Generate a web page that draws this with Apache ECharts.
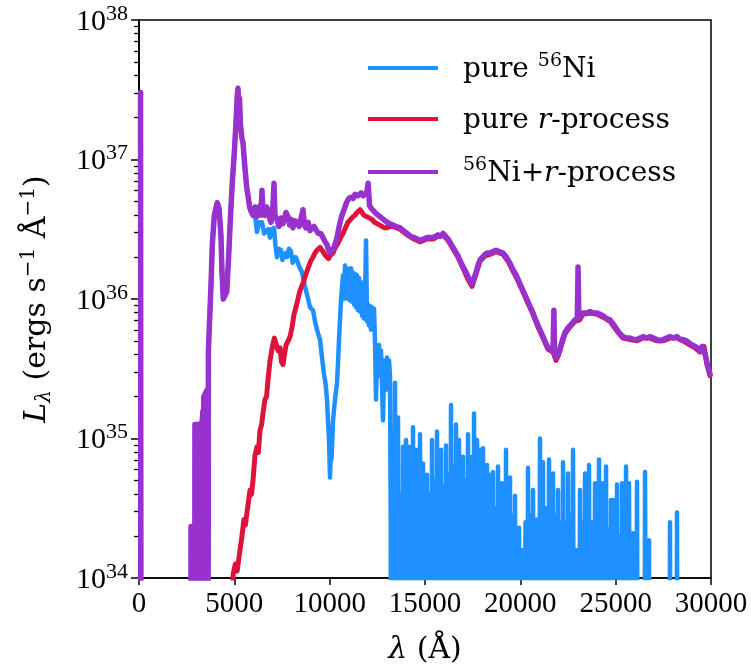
<!DOCTYPE html>
<html>
<head>
<meta charset="utf-8">
<script src="https://cdn.jsdelivr.net/npm/echarts@6/dist/echarts.min.js"></script>
<style>
  html, body { margin: 0; padding: 0; background: #fff; }
  #chart { width: 751px; height: 671px; }
</style>
</head>
<body>
<div id="chart"></div>
<script>
// Synthetic spectra: [wavelength (Å), log10 L_λ (erg s^-1 Å^-1)].
// A log value of 30 marks a bin with no flux (below the plotted range).

const pureNi = [
  [80,37.48],[120,30],[2720,30],[2730,34.37],[2900,34.37],[2915,30],[2935,35.1],[3150,35.1],[3165,30],
  [3200,34.95],[3360,35.2],[3375,30],[3400,35.3],[3580,35.35],[3600,30],[3640,35.63],[3776,36.1],
  [3850,36.4],[3950,36.6],[4100,36.69],[4200,36.65],[4300,36.45],[4350,36.2],[4420,36.0],[4510,35.99],
  [4600,36.05],[4700,36.3],[4800,36.6],[4900,36.85],[5000,37.05],[5100,37.3],[5150,37.45],[5193,37.51],
  [5230,37.38],[5270,37.44],[5320,37.25],[5400,37.15],[5455,37.12],[5550,36.95],[5650,36.8],[5717,36.74],
  [5800,36.66],[5900,36.62],[5980,36.6],[6085,36.6],[6189,36.48],[6300,36.55],[6451,36.55],[6560,36.47],
  [6660,36.48],[6770,36.5],[6871,36.44],[6960,36.5],[7081,36.51],[7160,36.38],[7238,36.3],[7340,36.36],
  [7448,36.35],[7520,36.28],[7605,36.27],[7700,36.33],[7763,36.3],[7870,36.36],[7972,36.34],[8060,36.26],
  [8130,36.27],[8220,36.3],[8287,36.28],[8380,36.24],[8445,36.22],[8530,36.2],[8602,36.16],[8690,36.1],
  [8760,36.06],[8870,36.0],[8969,35.94],[9050,35.95],[9126,35.92],[9230,35.84],[9336,35.78],[9420,35.74],
  [9494,35.71],[9598,35.58],[9703,35.46],[9780,35.4],[9860,35.28],[9920,35.1],[9965,34.99],[10018,34.72],
  [10060,34.9],[10097,34.85],[10175,35.13],[10280,35.28],[10385,35.4],[10440,35.55],[10490,35.71],
  [10595,35.99],[10700,36.17],[10750,36.0],[10805,36.24],[10860,36.02],[10910,36.22],[10960,36.0],
  [11015,36.2],[11067,35.99],[11120,36.22],[11172,35.98],[11225,36.19],[11280,35.96],[11330,36.18],
  [11380,35.94],[11434,36.17],[11490,35.92],[11540,36.15],[11592,35.91],[11650,36.12],[11697,35.88],
  [11750,36.06],[11800,35.86],[11855,36.0],[11907,36.42],[11960,35.84],[12011,35.96],[12060,35.81],
  [12116,35.95],[12168,35.78],[12220,35.94],[12273,35.8],[12326,35.93],[12378,35.7],[12430,35.28],
  [12483,35.6],[12535,35.49],[12590,35.67],[12640,35.45],[12693,35.63],[12745,35.38],[12797,35.13],
  [12850,35.5],[12902,35.56],[12955,35.35],[13007,35.58],[13059,35.4],[13112,35.56],[13164,35.45],
  [13200,34.49],[13260,30],
  [13427,35.40],[13505,30],[13585,35.15],[13650,30],[13716,34.6],[13780,30],[13847,34.94],[13925,30],
  [14004,34.99],[14083,30],[14162,34.94],[14214,30],[14266,34.7],[14318,30],[14371,35.08],[14450,30],
  [14530,34.92],[14582,30],[14634,34.6],[14686,30],[14738,35.03],[14817,30],[14896,34.82],[14948,30],
  [15000,34.55],[15053,30],[15106,34.74],[15171,30],[15237,34.6],[15302,30],[15368,34.99],[15434,30],
  [15500,34.7],[15565,30],[15630,35.05],[15682,30],[15735,34.6],[15787,30],[15840,34.92],[15905,30],
  [15970,34.65],[16036,30],[16102,34.95],[16154,30],[16207,34.75],[16285,30],[16364,35.24],[16430,30],
  [16495,34.8],[16561,30],[16627,35.10],[16705,30],[16784,34.99],[16837,30],[16890,34.6],[16942,30],
  [16994,34.87],[17060,30],[17125,34.7],[17190,30],[17256,35.03],[17308,30],[17360,34.6],[17413,30],
  [17466,34.87],[17518,30],[17571,35.18],[17650,30],[17728,34.99],[17806,30],[17885,34.92],[17964,30],
  [18043,34.93],[18096,30],[18150,34.55],[18201,30],[18253,34.81],[18331,30],[18410,34.74],[18488,30],
  [18567,34.76],[18633,30],[18700,34.5],[18765,30],[18830,34.80],[18882,30],[18935,34.5],[18987,30],
  [19040,34.68],[19092,30],[19145,34.45],[19197,30],[19249,34.92],[19302,30],[19355,34.5],[19407,30],
  [19459,34.72],[19524,30],[19590,34.45],[19655,30],[19721,34.59],[19826,30],[19931,34.36],[20036,30],
  [20141,34.20],[20205,30],[20270,34.4],[20336,30],[20403,34.79],[20469,30],[20535,34.45],[20600,30],
  [20665,34.63],[20770,30],[20875,34.42],[20953,30],[21032,35.0],[21111,30],[21190,34.83],[21270,30],
  [21350,34.5],[21427,30],[21505,34.85],[21557,30],[21610,34.4],[21662,30],[21714,34.75],[21780,30],
  [21845,34.45],[21911,30],[21977,34.63],[22043,30],[22110,34.4],[22175,30],[22239,34.83],[22305,30],
  [22370,34.4],[22435,30],[22501,34.75],[22565,30],[22630,34.45],[22697,30],[22763,34.92],[22868,30],
  [22973,34.20],[23051,30],[23130,34.63],[23195,30],[23260,34.4],[23327,30],[23393,34.75],[23447,30],
  [23500,34.35],[23552,30],[23603,34.81],[23682,30],[23760,34.4],[23839,30],[23917,34.68],[24022,30],
  [24127,34.85],[24232,30],[24337,34.68],[24416,30],[24494,34.80],[24557,30],[24620,34.35],[24688,30],
  [24756,34.56],[24808,30],[24861,34.56],[24966,30],[25071,34.67],[25135,30],[25200,34.3],[25266,30],
  [25333,34.68],[25438,30],[25543,34.80],[25622,30],[25700,34.68],[25805,30],[25910,34.32],[26015,30],
  [26120,34.69],[26200,30],[26480,30],[26540,34.76],[26645,30],[26750,34.27],[26800,30],
  [27800,30],[27850,34.40],[27900,30],[28170,30],[28217,34.47],[28270,30],[30000,30]
];

const pureRProcess = [
  [4900,30],[4930,34.02],[5050,34.1],[5150,34.05],[5297,34.2],[5400,34.3],[5507,34.42],[5580,34.38],
  [5665,34.47],[5822,34.63],[5900,34.6],[5980,34.7],[6085,34.88],[6189,34.94],[6260,34.9],[6346,35.06],
  [6430,35.1],[6504,35.18],[6608,35.28],[6690,35.3],[6766,35.42],[6871,35.56],[6950,35.62],[7028,35.68],
  [7100,35.72],[7186,35.71],[7290,35.63],[7395,35.65],[7470,35.55],[7553,35.53],[7630,35.6],[7710,35.67],
  [7820,35.7],[7920,35.73],[8030,35.8],[8130,35.89],[8210,35.93],[8287,35.97],[8370,36.02],[8445,36.06],
  [8530,36.09],[8602,36.11],[8730,36.17],[8864,36.22],[9000,36.27],[9126,36.3],[9230,36.33],[9336,36.35],
  [9420,36.36],[9494,36.37],[9600,36.35],[9703,36.34],[9780,36.31],[9860,36.3],[9940,36.29],[10018,36.31],
  [10100,36.31],[10175,36.33],[10300,36.37],[10438,36.4],[10570,36.44],[10700,36.47],[10830,36.51],
  [10960,36.55],[11100,36.57],[11225,36.59],[11330,36.6],[11434,36.62],[11592,36.64],[11700,36.62],
  [11800,36.6],[11960,36.59],[12090,36.58],[12220,36.57],[12350,36.55],[12483,36.54],[12620,36.53],
  [12745,36.52],[12880,36.51],[13010,36.51],[13160,36.52],[13322,36.52],[13690,36.50],[14057,36.46],
  [14424,36.43],[14738,36.41],[15106,36.43],[15420,36.43],[15682,36.45],[15945,36.46],[16207,36.42],
  [16469,36.36],[16730,36.30],[16994,36.22],[17256,36.14],[17466,36.09],[17675,36.18],[17885,36.27],
  [18150,36.31],[18410,36.32],[18725,36.34],[19092,36.32],[19354,36.27],[19616,36.20],[19880,36.13],
  [20141,36.05],[20403,35.97],[20665,35.89],[20928,35.80],[21190,35.72],[21452,35.64],[21714,35.62],
  [21870,35.56],[21977,35.59],[22134,35.66],[22344,35.75],[22606,35.80],[22868,35.84],[23104,35.85],
  [23288,35.89],[23655,35.90],[24022,35.89],[24337,35.87],[24704,35.84],[25071,35.77],[25386,35.72],
  [25753,35.71],[26120,35.70],[26435,35.72],[26802,35.72],[27169,35.70],[27483,35.70],[27850,35.72],
  [28217,35.72],[28533,35.70],[28900,35.67],[29162,35.65],[29424,35.62],[29634,35.66],[29792,35.53],
  [29950,35.45]
];

const niPlusRProcess = [
  [80,37.48],[120,30],[2720,30],[2730,34.37],[2900,34.37],[2915,30],[2935,35.1],[3150,35.1],[3165,30],
  [3200,34.95],[3360,35.2],[3375,30],[3400,35.3],[3580,35.35],[3600,30],[3640,35.63],[3776,36.1],
  [3850,36.4],[3950,36.6],[4100,36.69],[4200,36.65],[4300,36.45],[4350,36.2],[4420,36.0],[4510,35.99],
  [4600,36.05],[4700,36.3],[4800,36.6],[4900,36.85],[5000,37.05],[5100,37.3],[5150,37.45],[5193,37.51],
  [5230,37.38],[5270,37.44],[5320,37.25],[5400,37.15],[5455,37.12],[5550,36.95],[5650,36.8],[5717,36.74],
  [5800,36.66],[5900,36.62],[5980,36.6],[6085,36.66],[6189,36.59],[6260,36.63],[6346,36.67],[6400,36.6],
  [6451,36.78],[6500,36.62],[6608,36.6],[6690,36.66],[6766,36.64],[6850,36.58],[6923,36.55],[7000,36.6],
  [7081,36.83],[7130,36.6],[7238,36.57],[7340,36.52],[7450,36.58],[7553,36.54],[7630,36.58],[7710,36.62],
  [7815,36.59],[7900,36.53],[7980,36.57],[8077,36.51],[8180,36.56],[8287,36.55],[8400,36.52],[8500,36.58],
  [8602,36.64],[8680,36.53],[8760,36.51],[8870,36.55],[8969,36.49],[9060,36.5],[9180,36.52],[9284,36.51],
  [9400,36.47],[9530,36.47],[9651,36.44],[9760,36.41],[9860,36.39],[9940,36.35],[10018,36.33],
  [10120,36.34],[10228,36.37],[10300,36.4],[10385,36.44],[10500,36.52],[10620,36.59],[10753,36.64],
  [10880,36.69],[11000,36.72],[11120,36.73],[11230,36.72],[11330,36.75],[11480,36.74],[11644,36.76],
  [11760,36.74],[11854,36.75],[11960,36.77],[12019,36.83],[12090,36.67],[12180,36.65],[12273,36.64],
  [12450,36.61],[12640,36.59],[12820,36.57],[13010,36.55],[13160,36.54],[13322,36.53],[13500,36.52],
  [13690,36.51],[13870,36.49],[14057,36.47],[14240,36.45],[14424,36.44],[14600,36.43],[14738,36.42],
  [14920,36.43],[15106,36.44],[15260,36.44],[15420,36.44],[15560,36.45],[15682,36.46],[15820,36.45],
  [15945,36.47],[16080,36.45],[16207,36.43],[16340,36.4],[16469,36.37],[16600,36.34],[16730,36.31],
  [16860,36.27],[16994,36.23],[17120,36.2],[17256,36.16],[17360,36.13],[17466,36.11],[17570,36.15],
  [17675,36.19],[17780,36.24],[17885,36.28],[18020,36.3],[18150,36.32],[18280,36.33],[18410,36.33],
  [18560,36.34],[18725,36.35],[18900,36.34],[19092,36.33],[19220,36.31],[19354,36.28],[19480,36.25],
  [19616,36.21],[19750,36.18],[19880,36.14],[20010,36.1],[20141,36.06],[20270,36.02],[20403,35.98],
  [20530,35.94],[20665,35.9],[20800,35.85],[20928,35.81],[21060,35.77],[21190,35.73],[21320,35.69],
  [21452,35.65],[21600,35.64],[21714,35.63],[21760,35.92],[21800,35.6],[21870,35.58],[21977,35.6],
  [22060,35.63],[22134,35.67],[22240,35.72],[22344,35.76],[22480,35.79],[22606,35.81],[22740,35.83],
  [22868,35.85],[22990,35.86],[23026,36.23],[23070,35.87],[23104,35.86],[23200,35.88],[23288,35.9],
  [23470,35.9],[23655,35.91],[23840,35.9],[24022,35.9],[24180,35.89],[24337,35.88],[24520,35.86],
  [24704,35.85],[24880,35.82],[25071,35.78],[25230,35.75],[25386,35.73],[25570,35.72],[25753,35.72],
  [25940,35.71],[26120,35.71],[26280,35.72],[26435,35.73],[26620,35.72],[26802,35.73],[26990,35.72],
  [27169,35.71],[27330,35.7],[27483,35.71],[27670,35.72],[27850,35.73],[28030,35.72],[28217,35.73],
  [28380,35.71],[28533,35.71],[28720,35.7],[28900,35.68],[29030,35.67],[29162,35.66],[29300,35.65],
  [29424,35.63],[29530,35.66],[29634,35.67],[29700,35.6],[29792,35.54],[29870,35.5],[29950,35.46]
];

// Axis ranges
const xMin = 0, xMax = 30000, xStep = 5000;
const yDecades = [34, 35, 36, 37, 38];

const TICK_FONT = '"Liberation Serif", serif';
const TEXT_FONT = '"DejaVu Serif", serif';

// log10 values -> luminosity for the log axis
const toLum = rows => rows.map(r => [r[0], Math.pow(10, r[1])]);

// minor tick positions (2..9 × 10^n) in exponent space
const minorTicks = [];
for (let n = yDecades[0]; n < yDecades[yDecades.length - 1]; n++) {
  for (let k = 2; k <= 9; k++) minorTicks.push(n + Math.log10(k));
}

const legendLabels = {
  'pure 56Ni': '{g| }{t|pure }{s|56}{t|Ni}',
  'pure r-process': '{g| }{t|pure }{it|r}{t|-process}',
  '56Ni+r-process': '{g| }{s|56}{t|Ni+}{it|r}{t|-process}'
};

const chart = echarts.init(document.getElementById('chart'), null, { renderer: 'canvas' });

const lineSeries = (name, rows, color, width) => ({
  name,
  type: 'line',
  yAxisIndex: 0,
  data: toLum(rows),
  showSymbol: false,
  symbol: 'none',
  clip: true,
  lineStyle: { color, width, join: 'round', cap: 'round' },
  itemStyle: { color },
  emphasis: { disabled: true }
});

chart.setOption({
  animation: false,
  backgroundColor: '#fff',
  textStyle: { fontFamily: TEXT_FONT, color: '#000' },
  grid: {
    left: 139, right: 40, top: 20, bottom: 93,
    show: true, borderColor: '#000', borderWidth: 1.5, backgroundColor: 'transparent'
  },
  legend: {
    orient: 'vertical',
    left: 363,
    top: 47,
    itemWidth: 70,
    itemHeight: 4,
    itemGap: 21,
    icon: 'rect',
    selectedMode: false,
    data: ['pure 56Ni', 'pure r-process', '56Ni+r-process'],
    formatter: name => legendLabels[name],
    textStyle: {
      color: '#000',
      fontFamily: TEXT_FONT,
      rich: {
        g: { width: 20, fontSize: 28, lineHeight: 32 },
        t: { fontSize: 28, fontFamily: TEXT_FONT, color: '#000', lineHeight: 32, verticalAlign: 'bottom' },
        it: { fontSize: 28, fontFamily: TEXT_FONT, fontStyle: 'italic', color: '#000', lineHeight: 32, verticalAlign: 'bottom' },
        s: { fontSize: 19, fontFamily: TEXT_FONT, color: '#000', lineHeight: 19, verticalAlign: 'top' }
      }
    }
  },
  xAxis: {
    type: 'value',
    min: xMin,
    max: xMax,
    interval: xStep,
    name: '{i|λ}{n| (Å)}',
    nameLocation: 'middle',
    nameGap: 57,
    nameTextStyle: {
      rich: {
        i: { fontFamily: TEXT_FONT, fontStyle: 'italic', fontSize: 30, color: '#000' },
        n: { fontFamily: TEXT_FONT, fontSize: 30, color: '#000' }
      }
    },
    axisLine: { show: true, onZero: false, lineStyle: { color: '#000', width: 1.5 } },
    axisTick: { show: true, inside: false, length: 7, lineStyle: { color: '#000', width: 1.5 } },
    axisLabel: {
      fontFamily: TICK_FONT, fontSize: 29, color: '#000', margin: 12,
      formatter: v => String(v)
    },
    splitLine: { show: false }
  },
  yAxis: [
    {
      type: 'log',
      logBase: 10,
      min: Math.pow(10, yDecades[0]),
      max: Math.pow(10, yDecades[yDecades.length - 1]),
      position: 'left',
      name: '{i|L}{sub|λ}{n| (ergs s}{sup|−1}{n| Å}{sup|−1}{n|)}',
      nameLocation: 'middle',
      nameRotate: 90,
      nameGap: 84,
      nameTextStyle: {
        rich: {
          i: { fontFamily: TEXT_FONT, fontStyle: 'italic', fontSize: 30, color: '#000', lineHeight: 36 },
          n: { fontFamily: TEXT_FONT, fontSize: 30, color: '#000', lineHeight: 36 },
          sub: { fontFamily: TEXT_FONT, fontStyle: 'italic', fontSize: 20, color: '#000', lineHeight: 20, verticalAlign: 'bottom' },
          sup: { fontFamily: TEXT_FONT, fontSize: 20, color: '#000', lineHeight: 20, verticalAlign: 'top' }
        }
      },
      axisLine: { show: true, onZero: false, lineStyle: { color: '#000', width: 1.5 } },
      axisTick: { show: true, inside: false, length: 8, lineStyle: { color: '#000', width: 1.5 } },
      axisLabel: {
        margin: 11,
        formatter: v => '{b|10}{s|' + Math.round(Math.log10(v)) + '}',
        rich: {
          b: { fontFamily: TICK_FONT, fontSize: 30, color: '#000', lineHeight: 34, verticalAlign: 'bottom' },
          s: { fontFamily: TICK_FONT, fontSize: 22, color: '#000', lineHeight: 22, verticalAlign: 'top' }
        }
      },
      splitLine: { show: false },
      minorTick: { show: false }
    },
    {
      // exponent-space twin axis carrying the minor ticks
      type: 'value',
      min: yDecades[0],
      max: yDecades[yDecades.length - 1],
      position: 'left',
      offset: 0,
      axisLine: { show: true, onZero: false, lineStyle: { color: '#000', width: 1.5 } },
      axisTick: { show: true, inside: false, length: 5, customValues: minorTicks, lineStyle: { color: '#000', width: 1.3 } },
      axisLabel: { show: false },
      splitLine: { show: false }
    }
  ],
  series: [
    lineSeries('pure 56Ni', pureNi, '#1E90FF', 4.5),
    lineSeries('pure r-process', pureRProcess, '#DC143C', 5),
    lineSeries('56Ni+r-process', niPlusRProcess, '#9932CC', 5.5)
  ]
});
</script>
</body>
</html>
